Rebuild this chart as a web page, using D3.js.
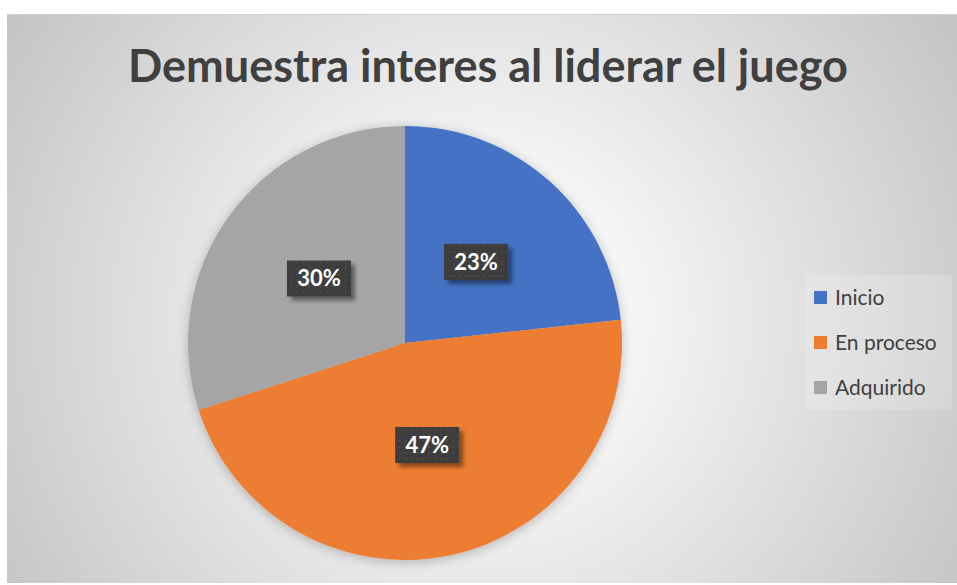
<!DOCTYPE html>
<html><head><meta charset="utf-8">
<script src="https://cdn.jsdelivr.net/npm/d3@7"></script>
<style>html,body{margin:0;padding:0;background:#fff;}svg{display:block;}</style>
</head><body>
<script>
const categories = ["Inicio", "En proceso", "Adquirido"];
const values = [23.3, 46.7, 30];
const colors = ["#4472C4", "#ED7D31", "#A5A5A5"];
const title = "Demuestra interes al liderar el juego";

const W = 957, H = 585;
const svg = d3.select("body").append("svg").attr("width", W).attr("height", H);
const defs = svg.append("defs");

const bg = defs.append("radialGradient").attr("id", "bg").attr("gradientUnits", "userSpaceOnUse")
  .attr("cx", 480).attr("cy", 320).attr("r", 560);
bg.append("stop").attr("offset", 0).attr("stop-color", "#ffffff");
bg.append("stop").attr("offset", 0.25).attr("stop-color", "#f7f7f7");
bg.append("stop").attr("offset", 1).attr("stop-color", "#c4c4c4");

const sh = defs.append("filter").attr("id", "pieShadow").attr("x", "-20%").attr("y", "-20%").attr("width", "140%").attr("height", "140%");
sh.append("feGaussianBlur").attr("in", "SourceAlpha").attr("stdDeviation", 6).attr("result", "b");
sh.append("feOffset").attr("in", "b").attr("dx", 0).attr("dy", 2).attr("result", "o");
sh.append("feComponentTransfer").attr("in", "o").attr("result", "o2")
  .append("feFuncA").attr("type", "linear").attr("slope", 0.25);
const m = sh.append("feMerge");
m.append("feMergeNode").attr("in", "o2");
m.append("feMergeNode").attr("in", "SourceGraphic");

const ls = defs.append("filter").attr("id", "lblShadow").attr("x", "-30%").attr("y", "-30%").attr("width", "160%").attr("height", "160%");
ls.append("feGaussianBlur").attr("in", "SourceAlpha").attr("stdDeviation", 2).attr("result", "b");
ls.append("feOffset").attr("in", "b").attr("dx", 4).attr("dy", 4).attr("result", "o");
ls.append("feComponentTransfer").attr("in", "o").attr("result", "o2")
  .append("feFuncA").attr("type", "linear").attr("slope", 0.45);
const m2 = ls.append("feMerge");
m2.append("feMergeNode").attr("in", "o2");
m2.append("feMergeNode").attr("in", "SourceGraphic");

const pat = defs.append("pattern").attr("id", "dots").attr("patternUnits", "userSpaceOnUse")
  .attr("width", 6).attr("height", 6);
pat.append("rect").attr("width", 6).attr("height", 6).attr("fill", "#3c3c3c");
pat.append("rect").attr("x", 1).attr("y", 1).attr("width", 2).attr("height", 2).attr("fill", "#4a4a4a");

// chart area background
svg.append("rect").attr("x", 7).attr("y", 14).attr("width", W - 7).attr("height", 569)
  .attr("fill", "url(#bg)");
svg.append("line").attr("x1", 7).attr("x2", W).attr("y1", 14.5).attr("y2", 14.5)
  .attr("stroke", "#d0d0d0").attr("stroke-width", 1);

// title
const t = svg.append("text").attr("x", 488).attr("y", 82).attr("text-anchor", "middle")
  .attr("font-family", "Lato, 'Open Sans', sans-serif").attr("font-weight", "bold")
  .attr("font-size", 46).attr("fill", "#404040").text(title);
t.attr("textLength", 720).attr("lengthAdjust", "spacingAndGlyphs");

// pie
const cx = 405, cy = 343, R = 217;
const pie = d3.pie().sort(null).value(d => d)(values);
const arc = d3.arc().innerRadius(0).outerRadius(R);
const labelArc = d3.arc().innerRadius(R * 0.98).outerRadius(0);
const g = svg.append("g").attr("transform", `translate(${cx},${cy})`);
g.append("g").attr("filter", "url(#pieShadow)").selectAll("path").data(pie).join("path")
  .attr("d", arc).attr("fill", (d, i) => colors[i]);

const total = d3.sum(values);
const lbl = g.selectAll("g.lbl").data(pie).join("g").attr("class", "lbl")
  .attr("transform", d => { const c = labelArc.centroid(d); return `translate(${c[0]},${c[1] - 2})`; });
lbl.append("rect").attr("x", -32).attr("y", -18).attr("width", 64).attr("height", 36)
  .attr("fill", "url(#dots)").attr("filter", "url(#lblShadow)");
lbl.append("text").attr("text-anchor", "middle").attr("dy", "0.36em")
  .attr("font-family", "Lato, 'Open Sans', sans-serif").attr("font-weight", "bold")
  .attr("font-size", 22).attr("fill", "#ffffff")
  .text(d => Math.round(d.value / total * 100) + "%");

// legend
svg.append("rect").attr("x", 805).attr("y", 275).attr("width", 147).attr("height", 135)
  .attr("fill", "#ffffff").attr("fill-opacity", 0.18);
const lg = svg.append("g").selectAll("g").data(categories).join("g")
  .attr("transform", (d, i) => `translate(814,${298 + i * 45})`);
lg.append("rect").attr("x", 0).attr("y", -7).attr("width", 13).attr("height", 13)
  .attr("fill", (d, i) => colors[i]);
lg.append("text").attr("x", 21).attr("y", 0).attr("dy", "0.35em")
  .attr("font-family", "Lato, 'Open Sans', sans-serif").attr("font-size", 21)
  .attr("fill", "#404040").text(d => d);
</script>
</body></html>
